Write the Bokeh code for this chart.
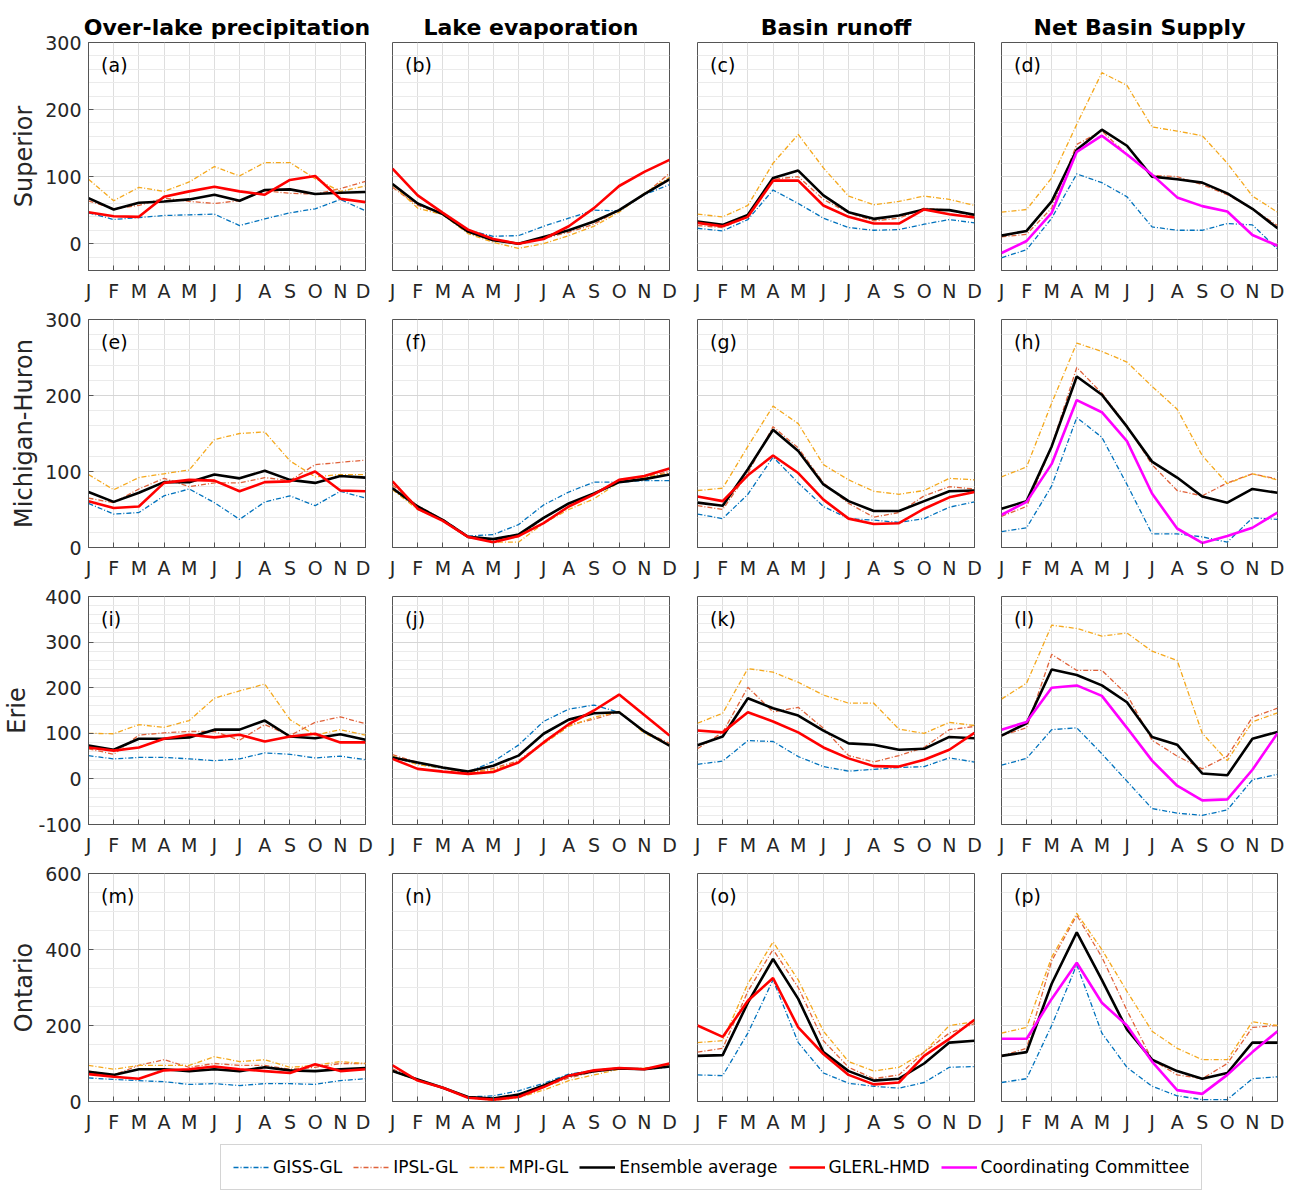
from bokeh.plotting import figure
from bokeh.models import Range1d, FixedTicker, SingleIntervalTicker, Label, Legend, LegendItem
from bokeh.layouts import gridplot, column
from bokeh.embed import file_html
from bokeh.resources import INLINE

FONT = "DejaVu Sans"
TXT = "#262626"

months = ["J", "F", "M", "A", "M", "J", "J", "A", "S", "O", "N", "D"]
col_titles = ["Over-lake precipitation", "Lake evaporation", "Basin runoff", "Net Basin Supply"]
row_names = ["Superior", "Michigan-Huron", "Erie", "Ontario"]
row_ylims = [(-40, 300), (0, 300), (-100, 400), (0, 600)]
row_tick = [100, 100, 100, 200]
row_minor = [5, 5, 5, 4]
series_names = ["GISS-GL", "IPSL-GL", "MPI-GL", "Ensemble average", "GLERL-HMD", "Coordinating Committee"]

# ---- Superior ----
a_giss = [46, 36, 39, 42, 43, 44, 27, 37, 46, 52, 66, 49]
a_ipsl = [64, 52, 57, 68, 63, 60, 64, 79, 75, 74, 82, 93]
a_mpi = [96, 64, 84, 78, 92, 115, 101, 121, 121, 97, 78, 86]
a_ens = [68, 51, 61, 63, 66, 73, 64, 80, 81, 74, 76, 77]
a_glerl = [47, 41, 40, 70, 78, 85, 78, 73, 95, 101, 67, 62]

b_giss = [88, 60, 43, 20, 11, 12, 26, 38, 50, 49, 73, 88]
b_ipsl = [84, 57, 44, 17, 5, 0, 8, 17, 29, 50, 73, 105]
b_mpi = [88, 53, 43, 15, 2, -7, 0, 12, 26, 47, 75, 99]
b_ens = [89, 60, 44, 18, 5, 0, 10, 20, 33, 50, 74, 96]
b_glerl = [112, 72, 46, 21, 7, 0, 7, 26, 53, 86, 107, 125]

c_giss = [23, 19, 36, 80, 60, 38, 24, 20, 21, 29, 36, 31]
c_ipsl = [27, 24, 40, 96, 100, 66, 46, 34, 38, 53, 50, 41]
c_mpi = [44, 40, 57, 120, 163, 113, 71, 58, 63, 71, 66, 57]
c_ens = [33, 28, 43, 98, 109, 72, 47, 37, 42, 51, 50, 43]
c_glerl = [31, 26, 40, 94, 94, 57, 40, 30, 30, 51, 44, 39]

d_giss = [-21, -9, 38, 104, 91, 70, 25, 20, 20, 30, 28, -8]
d_ipsl = [10, 14, 53, 148, 168, 133, 102, 100, 88, 73, 52, 27]
d_mpi = [47, 51, 98, 178, 255, 236, 174, 168, 161, 120, 71, 47]
d_ens = [12, 19, 63, 140, 170, 146, 100, 96, 91, 75, 52, 23]
d_cc = [-14, 4, 46, 137, 161, 133, 103, 69, 56, 48, 13, -3]

# ---- Michigan-Huron ----
e_giss = [58, 44, 46, 68, 77, 59, 37, 60, 68, 55, 74, 65]
e_ipsl = [65, 59, 77, 91, 80, 85, 85, 92, 88, 109, 112, 115]
e_mpi = [96, 76, 92, 97, 102, 142, 150, 152, 114, 93, 96, 96]
e_ens = [73, 60, 72, 86, 86, 96, 91, 101, 89, 85, 94, 92]
e_glerl = [61, 52, 54, 85, 89, 88, 74, 86, 87, 100, 75, 74]

f_giss = [78, 52, 37, 15, 17, 30, 56, 73, 86, 86, 88, 88]
f_ipsl = [82, 55, 37, 14, 9, 14, 38, 58, 70, 89, 93, 100]
f_mpi = [76, 50, 36, 14, 7, 7, 32, 50, 64, 86, 92, 98]
f_ens = [78, 54, 36, 14, 11, 17, 39, 58, 71, 86, 90, 96]
f_glerl = [87, 51, 35, 14, 7, 15, 32, 54, 70, 89, 94, 104]

g_giss = [44, 38, 70, 119, 85, 54, 38, 36, 33, 38, 53, 60]
g_ipsl = [55, 50, 98, 159, 131, 85, 58, 40, 46, 68, 80, 77]
g_mpi = [75, 78, 133, 186, 163, 109, 89, 74, 70, 75, 91, 89]
g_ens = [59, 55, 103, 155, 127, 83, 61, 48, 48, 61, 74, 75]
g_glerl = [67, 61, 95, 121, 98, 63, 38, 31, 32, 51, 66, 73]

h_giss = [21, 26, 81, 171, 145, 83, 18, 18, 14, 7, 39, 37]
h_ipsl = [41, 54, 133, 237, 203, 160, 109, 75, 68, 85, 97, 90]
h_mpi = [93, 106, 190, 269, 258, 244, 212, 182, 121, 84, 97, 89]
h_ens = [51, 61, 133, 225, 201, 159, 113, 92, 67, 59, 77, 72]
h_cc = [43, 60, 110, 194, 178, 140, 71, 25, 6, 15, 26, 46]

# ---- Erie ----
i_giss = [51, 44, 47, 47, 44, 40, 44, 57, 54, 46, 50, 42]
i_ipsl = [66, 54, 96, 101, 104, 104, 85, 119, 95, 124, 136, 121]
i_mpi = [100, 99, 119, 113, 128, 177, 193, 208, 130, 96, 108, 96]
i_ens = [73, 64, 88, 88, 91, 108, 108, 128, 93, 89, 98, 86]
i_glerl = [69, 62, 69, 88, 97, 91, 97, 82, 93, 99, 80, 80]

j_giss = [47, 33, 23, 15, 38, 74, 126, 153, 162, 146, 102, 73]
j_ipsl = [53, 36, 24, 13, 23, 40, 80, 118, 131, 147, 104, 78]
j_mpi = [50, 31, 24, 13, 20, 37, 77, 115, 135, 148, 100, 74]
j_ens = [47, 36, 25, 16, 29, 51, 99, 130, 144, 146, 104, 73]
j_glerl = [44, 22, 16, 11, 15, 36, 80, 120, 150, 185, 140, 95]

k_giss = [32, 39, 84, 82, 49, 27, 17, 21, 25, 27, 46, 37]
k_ipsl = [66, 102, 201, 147, 157, 111, 51, 37, 51, 69, 108, 115]
k_mpi = [122, 144, 242, 234, 212, 184, 166, 166, 109, 100, 124, 117]
k_ens = [74, 93, 177, 155, 139, 106, 78, 75, 64, 66, 92, 89]
k_glerl = [106, 102, 146, 126, 102, 69, 45, 28, 27, 42, 64, 101]

l_giss = [30, 45, 108, 112, 55, -5, -65, -75, -80, -68, -2, 10]
l_ipsl = [95, 112, 273, 238, 238, 185, 85, 50, 22, 50, 135, 155]
l_mpi = [175, 210, 337, 330, 313, 320, 280, 260, 100, 40, 125, 145]
l_ens = [95, 122, 240, 228, 205, 168, 92, 75, 12, 8, 88, 103]
l_cc = [108, 125, 200, 205, 182, 112, 40, -15, -47, -45, 20, 100]

# ---- Ontario ----
m_giss = [62, 58, 55, 52, 45, 47, 42, 47, 47, 45, 55, 60]
m_ipsl = [80, 70, 95, 110, 90, 100, 95, 95, 85, 90, 100, 100]
m_mpi = [95, 85, 95, 95, 95, 118, 105, 110, 90, 95, 105, 100]
m_ens = [78, 70, 85, 85, 80, 85, 80, 90, 82, 80, 85, 88]
m_glerl = [72, 65, 60, 82, 85, 92, 85, 80, 75, 98, 80, 85]

n_giss = [85, 55, 35, 12, 15, 28, 48, 72, 82, 85, 85, 90]
n_ipsl = [85, 58, 36, 10, 5, 15, 38, 62, 78, 85, 85, 92]
n_mpi = [80, 55, 36, 10, 3, 10, 30, 55, 70, 85, 88, 95]
n_ens = [80, 58, 36, 12, 8, 18, 42, 68, 80, 87, 85, 92]
n_glerl = [95, 55, 36, 10, 5, 12, 38, 68, 82, 88, 85, 100]

o_giss = [70, 68, 180, 320, 155, 75, 48, 40, 35, 50, 90, 92]
o_ipsl = [130, 140, 290, 400, 300, 160, 90, 60, 70, 130, 180, 205]
o_mpi = [155, 160, 310, 420, 320, 185, 105, 80, 90, 130, 200, 210]
o_ens = [120, 122, 260, 375, 270, 130, 80, 55, 60, 100, 155, 160]
o_glerl = [200, 170, 265, 325, 195, 125, 70, 45, 50, 120, 165, 215]

p_giss = [50, 60, 200, 360, 180, 90, 40, 15, 5, 5, 60, 65]
p_ipsl = [120, 140, 370, 490, 380, 240, 110, 70, 60, 100, 195, 200]
p_mpi = [180, 195, 380, 495, 400, 290, 185, 140, 110, 110, 210, 200]
p_ens = [120, 130, 310, 445, 320, 190, 110, 80, 60, 75, 155, 155]
p_cc = [165, 165, 270, 365, 260, 200, 105, 30, 20, 70, 130, 185]

panels = [
    [(a_giss, a_ipsl, a_mpi, a_ens, a_glerl), (b_giss, b_ipsl, b_mpi, b_ens, b_glerl),
     (c_giss, c_ipsl, c_mpi, c_ens, c_glerl), (d_giss, d_ipsl, d_mpi, d_ens, d_cc)],
    [(e_giss, e_ipsl, e_mpi, e_ens, e_glerl), (f_giss, f_ipsl, f_mpi, f_ens, f_glerl),
     (g_giss, g_ipsl, g_mpi, g_ens, g_glerl), (h_giss, h_ipsl, h_mpi, h_ens, h_cc)],
    [(i_giss, i_ipsl, i_mpi, i_ens, i_glerl), (j_giss, j_ipsl, j_mpi, j_ens, j_glerl),
     (k_giss, k_ipsl, k_mpi, k_ens, k_glerl), (l_giss, l_ipsl, l_mpi, l_ens, l_cc)],
    [(m_giss, m_ipsl, m_mpi, m_ens, m_glerl), (n_giss, n_ipsl, n_mpi, n_ens, n_glerl),
     (o_giss, o_ipsl, o_mpi, o_ens, o_glerl), (p_giss, p_ipsl, p_mpi, p_ens, p_cc)],
]
letters = "abcdefghijklmnop"

# styles: name -> (color, width, dash)
styles = {
    "GISS-GL": ("#0072BD", 1.3, "5 2 1 2"),
    "IPSL-GL": ("#E0623A", 1.3, "5 2 1 2"),
    "MPI-GL": ("#F5A81C", 1.3, "5 2 1 2"),
    "Ensemble average": ("#000000", 2.6, "solid"),
    "GLERL-HMD": ("#FF0000", 2.6, "solid"),
    "Coordinating Committee": ("#FF00FF", 2.6, "solid"),
}

frame_w = [277, 277, 277, 276]
left_b = [83, 17, 18, 17]
right_b = [10, 10, 10, 7]
top_b = [42, 10, 10, 10]
bottom_b = [39, 39, 39, 42]
FH = 228
x = list(range(12))

rows = []
for r in range(4):
    row = []
    ylo, yhi = row_ylims[r]
    ytick_vals = list(range(ylo - ylo % row_tick[r], yhi + 1, row_tick[r]))
    for c in range(4):
        p = figure(frame_width=frame_w[c], frame_height=FH,
                   x_range=Range1d(0, 11), y_range=Range1d(ylo, yhi),
                   output_backend="svg", toolbar_location=None,
                   min_border_left=left_b[c], min_border_right=right_b[c],
                   min_border_top=top_b[r], min_border_bottom=bottom_b[r])
        p.outline_line_color = "#555555"
        p.outline_line_width = 1
        # x axis
        xa = p.xaxis[0]
        xa.ticker = FixedTicker(ticks=x)
        xa.major_label_overrides = {i: months[i] for i in x}
        xa.major_tick_in = 5
        xa.major_tick_out = 0
        xa.minor_tick_in = 0
        xa.minor_tick_out = 0
        xa.axis_line_color = "#555555"
        xa.major_tick_line_color = "#555555"
        xa.major_label_standoff = 9
        xa.major_label_text_font = FONT
        xa.major_label_text_font_size = "19px"
        xa.major_label_text_color = TXT
        # y axis
        ya = p.yaxis[0]
        ya.ticker = SingleIntervalTicker(interval=row_tick[r], num_minor_ticks=row_minor[r])
        ya.major_label_overrides = {v: str(v) for v in ytick_vals}
        ya.major_tick_in = 5
        ya.major_tick_out = 0
        ya.minor_tick_in = 0
        ya.minor_tick_out = 0
        ya.axis_line_color = "#555555"
        ya.major_tick_line_color = "#555555"
        ya.major_label_text_font = FONT
        ya.major_label_text_color = TXT
        if c == 0:
            ya.major_label_text_font_size = "19px"
            ya.major_label_standoff = 7
            ya.axis_label = row_names[r]
            ya.axis_label_text_font = FONT
            ya.axis_label_text_font_size = "24px"
            ya.axis_label_text_font_style = "normal"
            ya.axis_label_text_color = TXT
            ya.axis_label_standoff = 4
        else:
            ya.visible = False
        # grids
        p.xgrid.grid_line_color = "#dedede"
        p.ygrid.grid_line_color = "#d6d6d6"
        p.ygrid.minor_grid_line_color = "#ebebeb"
        # column title
        if r == 0:
            p.title.text = col_titles[c]
            p.title.align = "center"
            p.title.text_font = FONT
            p.title.text_font_size = "22px"
            p.title.text_font_style = "bold"
            p.title.text_color = "#000000"
            p.title.standoff = 6
        # series
        data = panels[r][c]
        names = ["GISS-GL", "IPSL-GL", "MPI-GL", "Ensemble average",
                 "Coordinating Committee" if c == 3 else "GLERL-HMD"]
        for vals, nm in zip(data, names):
            col, w, dash = styles[nm]
            p.line(x, vals, line_color=col, line_width=w, line_dash=dash)
        ppu = FH / (yhi - ylo)
        p.add_layout(Label(x=0.5, y=yhi - 22 / ppu, text="(" + letters[r * 4 + c] + ")",
                           text_font=FONT, text_font_size="19px", text_color="#000000",
                           text_baseline="middle", text_align="left"))
        row.append(p)
    rows.append(row)

grid = gridplot(rows, toolbar_location=None)

# legend strip
lf = figure(width=1279, height=48, x_range=Range1d(0, 1), y_range=Range1d(0, 1),
            output_backend="svg", toolbar_location=None, min_border=0,
            x_axis_location=None, y_axis_location=None)
lf.grid.visible = False
lf.outline_line_color = None
items = []
for nm in series_names:
    col, w, dash = styles[nm]
    rr = lf.line(x=[5, 6], y=[5, 5], line_color=col, line_width=(1.6 if w < 2 else 2.6), line_dash=dash)
    items.append(LegendItem(label=nm, renderers=[rr]))
leg = Legend(items=items, orientation="horizontal", location=(220, 1),
             label_text_font=FONT, label_text_font_size="17px", label_text_color="#000000",
             glyph_width=36, glyph_height=20, label_standoff=4, spacing=11,
             padding=12, margin=0, border_line_color="#aaaaaa", border_line_width=1,
             background_fill_color="white", background_fill_alpha=1)
lf.add_layout(leg, "center")

layout = column(grid, lf)
open("out.html", "w").write(file_html(layout, INLINE))
